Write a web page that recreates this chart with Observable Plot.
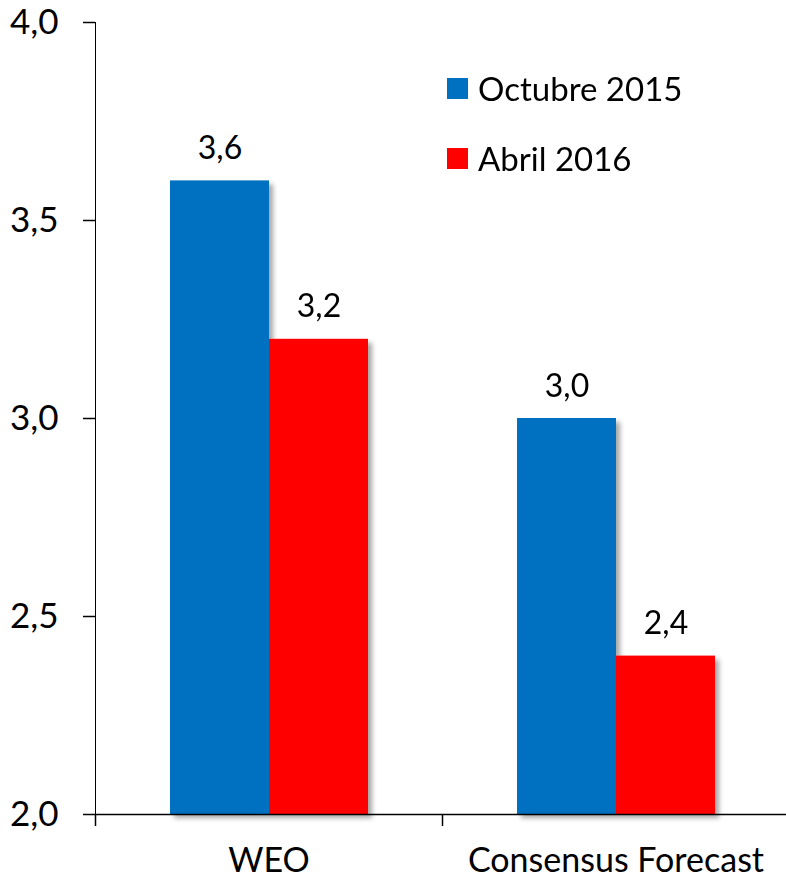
<!DOCTYPE html>
<html><head><meta charset="utf-8">
<script src="https://cdn.jsdelivr.net/npm/d3@7"></script>
<script src="https://cdn.jsdelivr.net/npm/@observablehq/plot@0.6"></script>
<style>
body{margin:0;background:#fff;font-family:Lato,sans-serif;}
#wrap{position:relative;width:786px;height:879px;}
#legend{position:absolute;left:447px;top:69px;font-size:33px;color:#000;}
.item{display:flex;align-items:center;height:38px;margin-bottom:32px;white-space:nowrap}
.sw{width:21px;height:21px;margin-right:10px;flex:none}
</style></head><body><div id="wrap"></div>
<script>
const categories = ["WEO", "Consensus Forecast"];
const series = ["Octubre 2015", "Abril 2016"];
const octubre2015 = [3.6, 3.0];
const abril2016 = [3.2, 2.4];
const colors = ["#0070C0", "#FF0000"];
const yTicks = [2.0, 2.5, 3.0, 3.5, 4.0];

const data = categories.flatMap((c, i) => [
  {category: c, series: series[0], value: octubre2015[i]},
  {category: c, series: series[1], value: abril2016[i]}
]);
const fmt = d => d.toFixed(1).replace(".", ",");
const W = 786, H = 879, mL = 95, mR = -3;
const bandW = (W - mL - mR) / categories.length;

const chart = Plot.plot({
  width: W, height: H,
  marginLeft: mL, marginRight: mR, marginTop: 22, marginBottom: 65,
  style: {fontSize: "34px", fontFamily: "Lato, sans-serif", color: "#000", background: "#fff"},
  fx: {domain: categories, padding: 0, label: null, tickSize: 0, tickPadding: 33},
  x: {domain: series, paddingInner: 0, paddingOuter: 0.75, axis: null},
  y: {domain: [yTicks[0], yTicks[yTicks.length - 1]], ticks: yTicks, tickFormat: fmt,
      tickSize: 12, tickPadding: 25, label: null, line: true},
  color: {domain: series, range: colors},
  marks: [
    Plot.barY(data, {fx: "category", x: "series", y1: () => yTicks[0], y2: "value", fill: "series"}),
    Plot.ruleY([yTicks[0]], {stroke: "#000", strokeWidth: 1.5}),
    Plot.ruleX(categories, {fx: d => d, x: null, y1: () => yTicks[0], y2: () => yTicks[0],
      insetBottom: -12, dx: -bandW / 2, stroke: "#000", strokeWidth: 1.5}),
    Plot.text(data, {fx: "category", x: "series", y: "value", text: d => fmt(d.value),
      lineAnchor: "bottom", dy: -22, fontSize: 32, fill: "#000"})
  ]
});

const svg = d3.select(chart);
const defs = svg.insert("defs", ":first-child");
const f = defs.append("filter").attr("id", "shadow").attr("x", "-10%").attr("y", "-10%").attr("width", "130%").attr("height", "130%");
f.append("feDropShadow").attr("dx", 4).attr("dy", 4).attr("stdDeviation", 2.5)
  .attr("flood-color", "#000").attr("flood-opacity", 0.35);
svg.selectAll("g[aria-label=bar]").attr("filter", "url(#shadow)");
svg.selectAll("g[aria-label='y-axis tick'], g[aria-label='y-axis line'], g[aria-label='rule']").attr("stroke-width", 1.5);
svg.selectAll("g[aria-label='y-axis tick label']").attr("font-size", 35);

const wrap = document.getElementById("wrap");
wrap.appendChild(chart);
const legend = document.createElement("div");
legend.id = "legend";
series.forEach((s, i) => {
  const item = document.createElement("div");
  item.className = "item";
  const sw = document.createElement("span");
  sw.className = "sw";
  sw.style.background = colors[i];
  const t = document.createElement("span");
  t.textContent = s;
  item.appendChild(sw); item.appendChild(t);
  legend.appendChild(item);
});
wrap.appendChild(legend);
</script></body></html>
